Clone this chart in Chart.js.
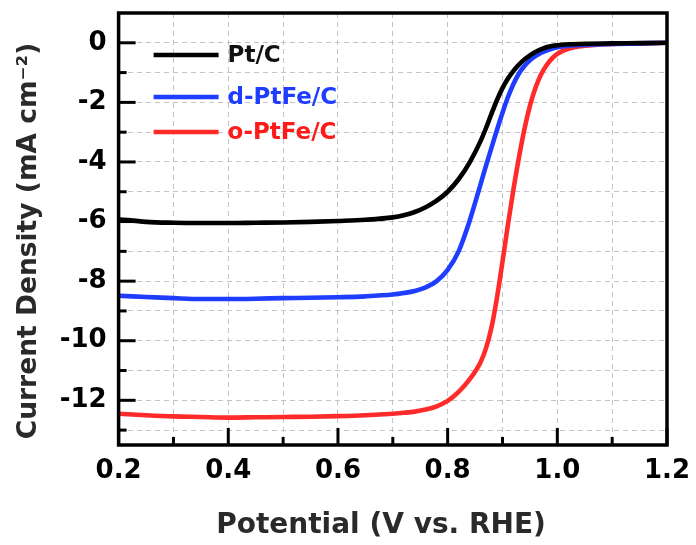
<!DOCTYPE html>
<html>
<head>
<meta charset="utf-8">
<script src="https://cdn.jsdelivr.net/npm/chart.js@4"></script>
<style>
html,body{margin:0;padding:0;background:#fff;}
#wrap{width:696px;height:545px;}
</style>
</head>
<body>
<div id="wrap"><canvas id="c" width="696" height="545"></canvas></div>
<script>
const potential = [0.20,0.25,0.30,0.35,0.40,0.45,0.50,0.55,0.60,0.65,0.70,0.72,0.74,0.76,0.78,0.80,0.82,0.84,0.86,0.87,0.88,0.89,0.90,0.91,0.92,0.93,0.94,0.95,0.96,0.97,0.98,0.99,1.00,1.02,1.05,1.10,1.15,1.20];
const ptC = [-5.92,-6.01,-6.04,-6.05,-6.05,-6.04,-6.03,-6.01,-5.98,-5.94,-5.86,-5.79,-5.68,-5.52,-5.30,-5.00,-4.58,-4.02,-3.30,-2.86,-2.38,-1.92,-1.52,-1.20,-0.94,-0.73,-0.56,-0.42,-0.31,-0.22,-0.15,-0.11,-0.08,-0.05,-0.03,-0.02,-0.01,0.00];
const dPtFeC = [-8.49,-8.53,-8.57,-8.60,-8.60,-8.59,-8.57,-8.56,-8.54,-8.51,-8.45,-8.40,-8.33,-8.21,-8.00,-7.62,-7.00,-5.98,-4.75,-4.12,-3.52,-2.92,-2.35,-1.82,-1.38,-1.03,-0.78,-0.59,-0.45,-0.34,-0.26,-0.20,-0.15,-0.10,-0.07,-0.04,-0.02,0.00];
const oPtFeC = [-12.45,-12.50,-12.54,-12.56,-12.58,-12.57,-12.56,-12.55,-12.53,-12.50,-12.45,-12.42,-12.38,-12.31,-12.20,-12.02,-11.72,-11.30,-10.72,-10.25,-9.55,-8.55,-7.35,-6.10,-4.92,-3.85,-2.90,-2.12,-1.52,-1.07,-0.76,-0.53,-0.37,-0.20,-0.10,-0.04,-0.02,0.00];
const seriesNames = ['Pt/C','d-PtFe/C','o-PtFe/C'];
const seriesColors = ['#000000','#1f3dff','#ff2b2b'];
const legendTextColors = ['#111111','#1f3dff','#ff1a1a'];
const xTickLabels = ['0.2','0.4','0.6','0.8','1.0','1.2'];
const yTickLabels = ['0','-2','-4','-6','-8','-10','-12'];
const xTitle = 'Potential (V vs. RHE)';
const yTitle = 'Current Density (mA cm\u207B\u00B2)';

const FONT = "'DejaVu Sans', sans-serif";
const toPts = arr => arr.map((v,i)=>({x:potential[i], y:v}));
const datasets = [ptC,dPtFeC,oPtFeC].map((arr,i)=>({
  label: seriesNames[i],
  data: toPts(arr),
  borderColor: seriesColors[i],
  backgroundColor: seriesColors[i],
  borderWidth: 4.6,
  pointRadius: 0,
  cubicInterpolationMode: 'monotone',
  fill: false
}));

const framePlugin = {
  id: 'frame',
  afterDatasetsDraw(chart) {
    const {ctx, chartArea: a, scales: {x, y}} = chart;
    ctx.save();
    ctx.strokeStyle = '#000';
    ctx.lineWidth = 3;
    ctx.lineCap = 'butt';
    for (let k = 2; k <= 12; k++) {
      const px = x.getPixelForValue(k/10);
      const len = (k % 2 === 0) ? 17 : 8;
      ctx.beginPath(); ctx.moveTo(px, a.bottom); ctx.lineTo(px, a.bottom - len); ctx.stroke();
    }
    for (let v = -13; v <= 0; v++) {
      const py = y.getPixelForValue(v);
      const len = (v % 2 === 0) ? 17 : 8;
      ctx.beginPath(); ctx.moveTo(a.left, py); ctx.lineTo(a.left + len, py); ctx.stroke();
    }
    ctx.lineWidth = 3.5;
    ctx.strokeRect(a.left, a.top, a.right - a.left, a.bottom - a.top);
    // legend
    const lx0 = a.left + 35, lx1 = a.left + 100, tx = a.left + 109;
    const rows = [55, 97, 132];
    ctx.font = "bold 23px " + FONT;
    ctx.textBaseline = 'middle';
    ctx.textAlign = 'left';
    chart.data.datasets.forEach((ds, i) => {
      ctx.strokeStyle = ds.borderColor;
      ctx.lineWidth = 4.5;
      ctx.beginPath(); ctx.moveTo(lx0, rows[i]); ctx.lineTo(lx1, rows[i]); ctx.stroke();
      ctx.fillStyle = legendTextColors[i];
      ctx.fillText(ds.label, tx, rows[i] + 1);
    });
    // axis titles
    ctx.fillStyle = '#2a2a2a';
    ctx.textAlign = 'center';
    ctx.font = "bold 28px " + FONT;
    ctx.fillText(xTitle, 381, 526);
    ctx.save();
    ctx.translate(29, 241);
    ctx.rotate(-Math.PI/2);
    ctx.font = "bold 26.5px " + FONT;
    ctx.fillText(yTitle, 0, 0);
    ctx.restore();
    ctx.restore();
  }
};

new Chart(document.getElementById('c'), {
  type: 'line',
  data: { datasets },
  plugins: [framePlugin],
  options: {
    responsive: false,
    animation: false,
    layout: { padding: { left: 0, top: 13, right: 29, bottom: 0 } },
    plugins: { legend: { display: false }, tooltip: { enabled: false } },
    scales: {
      x: {
        type: 'linear', min: 0.2, max: 1.2,
        ticks: {
          stepSize: 0.1, padding: 11, color: '#000',
          font: { family: FONT, size: 26, weight: 'bold' },
          maxRotation: 0, autoSkip: false,
          callback: v => { const k = Math.round(v*10); return k % 2 === 0 ? xTickLabels[(k-2)/2] : ''; }
        },
        grid: { color: '#c4c4c4', lineWidth: 1, drawTicks: false },
        border: { display: false, dash: [5,4] },
        afterFit: s => { s.height = 100; s.paddingLeft = 0; s.paddingRight = 0; }
      },
      y: {
        type: 'linear', min: -13.5, max: 1,
        ticks: {
          stepSize: 1, padding: 12, color: '#000', includeBounds: false, autoSkip: false,
          font: { family: FONT, size: 26, weight: 'bold' },
          callback: v => { const k = Math.round(v); return (k <= 0 && k % 2 === 0) ? yTickLabels[Math.abs(k)/2] : ''; }
        },
        grid: { color: '#c4c4c4', lineWidth: 1, drawTicks: false },
        border: { display: false, dash: [5,4] },
        afterFit: s => { s.width = 118.6; s.paddingTop = 0; s.paddingBottom = 0; }
      }
    }
  }
});
</script>
</body>
</html>
